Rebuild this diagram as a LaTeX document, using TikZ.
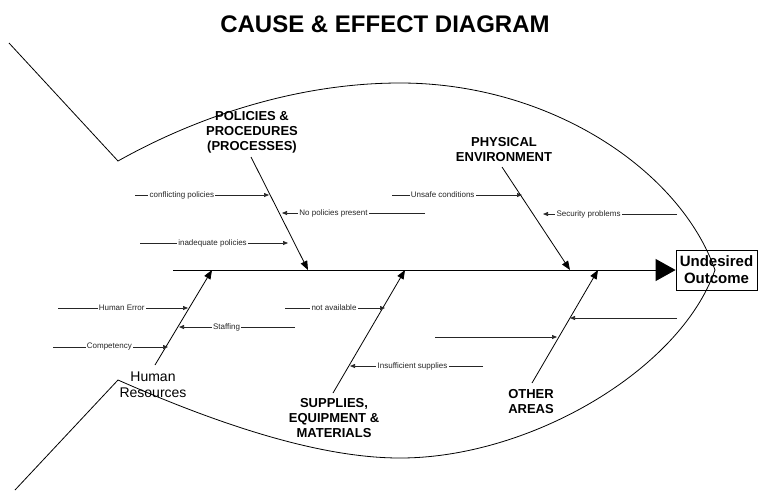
\documentclass[tikz,border=0pt]{standalone}
\usepackage{fontspec}
\setmainfont{Liberation Sans}
\usetikzlibrary{arrows.meta}
\begin{document}
\begin{tikzpicture}[x=1pt,y=-1pt,
  fish/.style={line width=0.8pt},
  spine/.style={line width=0.9pt,-{Triangle[length=20pt,width=22pt]}},
  branch/.style={line width=0.8pt,-{Triangle[length=9pt,width=7pt]}},
  cause/.style={line width=0.7pt,draw=black!85,-{Triangle[length=5pt,width=4pt]}},
  lbl/.style={fill=white,inner sep=1.2pt,font=\fontsize{8}{9}\selectfont,text=black!85},
  cat/.style={align=center,font=\fontsize{13}{15}\selectfont\bfseries,inner sep=0pt},
]
\useasboundingbox (0,0) rectangle (759,491);

% title
\node[font=\fontsize{24}{27}\selectfont\bfseries] (title) at (385,24) {CAUSE \& EFFECT DIAGRAM};

% outcome box
\node[draw,line width=0.8pt,minimum width=81pt,minimum height=40pt,inner sep=0pt,align=center,
      font=\fontsize{15}{17}\selectfont\bfseries] (out) at (716.5,270) {Undesired\\Outcome};

% spine
\coordinate (sp0) at (173,270);
\draw[spine] (sp0) -- (out.west);

% category labels
\node[cat] (pol) at (252,132) {POLICIES \&\\PROCEDURES\\(PROCESSES)};
\node[cat] (phy) at (504,150) {PHYSICAL\\ENVIRONMENT};
\node[cat] (sup) at (334,418) {SUPPLIES,\\EQUIPMENT \&\\MATERIALS};
\node[cat] (oth) at (531,402) {OTHER\\AREAS};
\node[align=center,inner sep=0pt,font=\fontsize{14}{16}\selectfont] (hum) at (153,385) {Human\\Resources};

% branch end points
\coordinate (polA) at (251,157); \coordinate (polB) at (308,270);
\coordinate (phyA) at (502,167); \coordinate (phyB) at (570,270);
\coordinate (supA) at (333,393); \coordinate (supB) at (405,270);
\coordinate (othA) at (532,383); \coordinate (othB) at (598,270);
\coordinate (humA) at (155,365); \coordinate (humB) at (212,270);

\draw[branch] (polA) -- (polB);
\draw[branch] (phyA) -- (phyB);
\draw[branch] (supA) -- (supB);
\draw[branch] (othA) -- (othB);
\draw[branch] (humA) -- (humB);

% sub-causes: policies
\coordinate (c1a) at (135,195); \coordinate (c1b) at (269,195);
\draw[cause] (c1a) -- node[lbl,pos=0.35] (t1) {conflicting policies} (c1b);
\coordinate (c2a) at (425,213); \coordinate (c2b) at (282,213);
\draw[cause] (c2a) -- node[lbl,pos=0.64] (t2) {No policies present} (c2b);
\coordinate (c3a) at (140,243); \coordinate (c3b) at (288,243);
\draw[cause] (c3a) -- node[lbl,pos=0.49] (t3) {inadequate policies} (c3b);

% physical environment
\coordinate (c4a) at (392,195); \coordinate (c4b) at (522,195);
\draw[cause] (c4a) -- node[lbl,pos=0.39] (t4) {Unsafe conditions} (c4b);
\coordinate (c5a) at (677,214); \coordinate (c5b) at (543,214);
\draw[cause] (c5a) -- node[lbl,pos=0.66] (t5) {Security problems} (c5b);

% human resources
\coordinate (c6a) at (58,308); \coordinate (c6b) at (188,308);
\draw[cause] (c6a) -- node[lbl,pos=0.49] (t6) {Human Error} (c6b);
\coordinate (c7a) at (295,327); \coordinate (c7b) at (179,327);
\draw[cause] (c7a) -- node[lbl,pos=0.59] (t7) {Staffing} (c7b);
\coordinate (c8a) at (53,347); \coordinate (c8b) at (168,347);
\draw[cause] (c8a) -- node[lbl,pos=0.49] (t8) {Competency} (c8b);

% supplies
\coordinate (c9a) at (285,308); \coordinate (c9b) at (385,308);
\draw[cause] (c9a) -- node[lbl,pos=0.49] (t9) {not available} (c9b);
\coordinate (c10a) at (483,366); \coordinate (c10b) at (350,366);
\draw[cause] (c10a) -- node[lbl,pos=0.53] (t10) {Insufficient supplies} (c10b);

% other areas
\coordinate (c11a) at (677,318); \coordinate (c11b) at (570,318);
\draw[cause] (c11a) -- (c11b);
\coordinate (c12a) at (435,337); \coordinate (c12b) at (557,337);
\draw[cause] (c12a) -- (c12b);

% fish outline
\draw[fish] (9,43) -- (118,161) .. controls (200,115) and (300,83) .. (400,83)
  .. controls (550,83) and (680,170) .. (715,270)
  .. controls (680,370) and (530,458) .. (400,458)
  .. controls (320,458) and (220,425) .. (118,380) -- (15,490);
\end{tikzpicture}
\end{document}
